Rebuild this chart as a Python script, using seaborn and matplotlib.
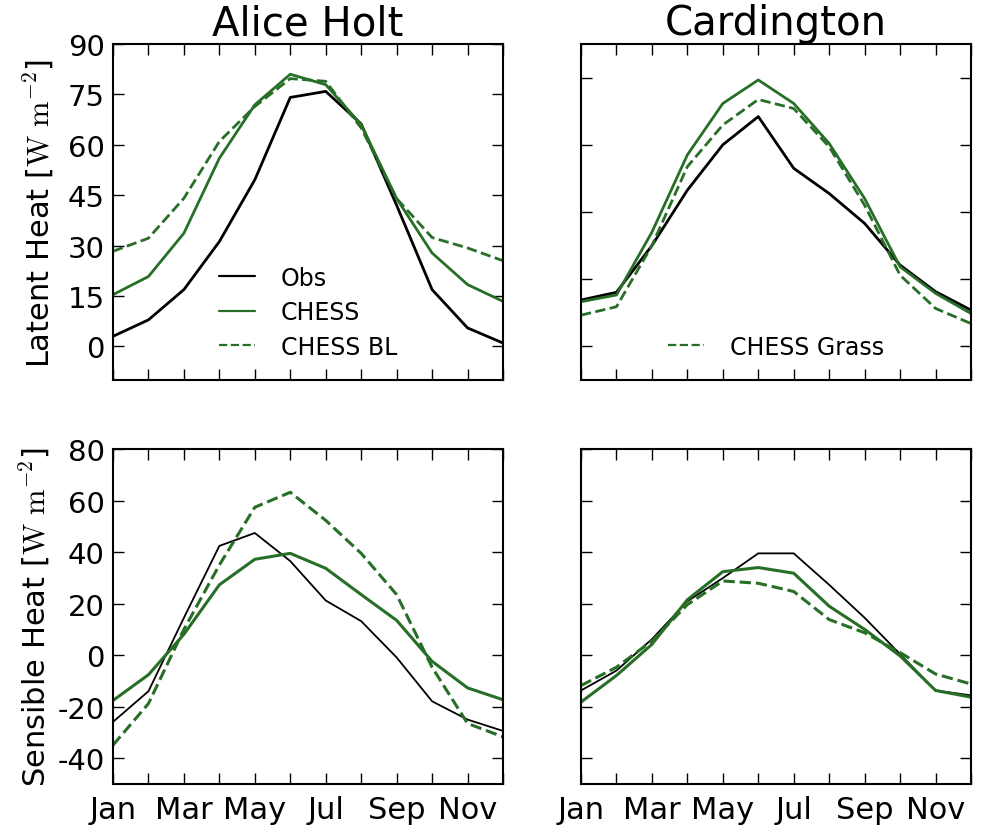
import numpy as np
import pandas as pd
import matplotlib
matplotlib.use("Agg")
import matplotlib.pyplot as plt
import seaborn as sns

# Monthly climatology, Jan..Dec
months = ["Jan", "Feb", "Mar", "Apr", "May", "Jun",
          "Jul", "Aug", "Sep", "Oct", "Nov", "Dec"]
month_labels = ["Jan", "", "Mar", "", "May", "", "Jul", "", "Sep", "", "Nov", ""]

# Latent heat flux [W m-2]
alice_le_obs = [3.0, 7.9, 16.9, 31.2, 49.6, 74.1, 75.9, 66.2, 42.0, 16.9, 5.5, 1.0]
alice_le_chess = [15.4, 20.8, 33.7, 56.0, 71.9, 81.0, 77.9, 66.0, 44.0, 27.8, 18.4, 13.4]
alice_le_chess_bl = [28.3, 32.2, 44.1, 61.0, 71.4, 79.7, 78.9, 65.0, 44.0, 32.4, 29.3, 25.5]

card_le_obs = [13.8, 16.1, 30.0, 46.5, 60.0, 68.4, 53.0, 45.5, 36.6, 24.2, 16.3, 10.8]
card_le_chess = [13.3, 15.3, 34.0, 57.0, 72.3, 79.3, 72.3, 60.4, 44.0, 23.7, 15.8, 9.8]
card_le_chess_grass = [9.3, 11.8, 30.0, 53.5, 65.9, 73.5, 70.8, 59.4, 42.0, 21.2, 11.3, 6.8]

# Sensible heat flux [W m-2]
alice_h_obs = [-25.9, -14.0, 14.5, 42.4, 47.4, 36.5, 21.2, 13.2, -0.9, -17.9, -25.0, -29.4]
alice_h_chess = [-17.6, -7.6, 8.1, 27.3, 37.2, 39.5, 33.7, 23.5, 13.5, -2.4, -12.7, -17.3]
alice_h_chess_bl = [-34.9, -18.8, 10.0, 35.0, 57.4, 63.2, 52.3, 39.5, 23.5, -4.7, -26.5, -31.7]

card_h_obs = [-13.7, -6.0, 6.2, 20.9, 29.9, 39.5, 39.5, 27.3, 14.5, 0.4, -13.7, -15.6]
card_h_chess = [-18.2, -7.9, 4.2, 21.5, 32.4, 34.0, 31.8, 19.0, 10.0, -0.3, -13.7, -16.3]
card_h_chess_grass = [-11.8, -4.7, 5.5, 19.6, 28.8, 27.9, 24.7, 13.8, 8.7, 1.0, -7.3, -11.2]

GREEN = "#276e27"

sns.set_style("ticks", {
    "xtick.direction": "in", "ytick.direction": "in",
    "xtick.top": True, "ytick.right": True,
    "axes.edgecolor": "black",
    "text.color": "black", "axes.labelcolor": "black",
    "xtick.color": "black", "ytick.color": "black",
})
plt.rcParams.update({
    "font.family": ["DejaVu Sans"],
    "mathtext.fontset": "cm",
    "axes.unicode_minus": False,
    "xtick.major.size": 8, "ytick.major.size": 8,
    "xtick.major.width": 1.0, "ytick.major.width": 1.0,
    "axes.linewidth": 1.5,
    "xtick.major.pad": 8, "ytick.major.pad": 6,
})

fig = plt.figure(figsize=(9.87, 8.29), dpi=100)
W, H = 987.0, 829.0


def add_axes(left, top, right, bottom):
    return fig.add_axes([left / W, 1 - bottom / H, (right - left) / W, (bottom - top) / H])


ax_le_a = add_axes(113, 45, 503, 381)
ax_le_c = add_axes(581, 45, 971, 381)
ax_h_a = add_axes(113, 450, 503, 785)
ax_h_c = add_axes(581, 450, 971, 785)

x = np.arange(len(months))


def draw(ax, series):
    for vals, color, ls, lw, label in series:
        df = pd.DataFrame({"month": x, "flux": vals})
        sns.lineplot(data=df, x="month", y="flux", ax=ax, color=color,
                     linestyle=ls, linewidth=lw, label=label)
    ax.set_xlim(0, 11)
    ax.set_xticks(x)
    ax.set_xlabel("")
    ax.set_ylabel("")


draw(ax_le_a, [
    (alice_le_obs, "black", "-", 2.0, "Obs"),
    (alice_le_chess, GREEN, "-", 2.0, "CHESS"),
    (alice_le_chess_bl, GREEN, "--", 2.0, "CHESS BL"),
])
draw(ax_le_c, [
    (card_le_obs, "black", "-", 2.0, None),
    (card_le_chess, GREEN, "-", 2.0, None),
    (card_le_chess_grass, GREEN, "--", 2.0, "CHESS Grass"),
])
draw(ax_h_a, [
    (alice_h_obs, "black", "-", 1.3, None),
    (alice_h_chess, GREEN, "-", 2.2, None),
    (alice_h_chess_bl, GREEN, "--", 2.2, None),
])
draw(ax_h_c, [
    (card_h_obs, "black", "-", 1.3, None),
    (card_h_chess, GREEN, "-", 2.2, None),
    (card_h_chess_grass, GREEN, "--", 2.2, None),
])

# Latent heat axes
for ax in (ax_le_a, ax_le_c):
    ax.set_ylim(-10, 90)
    ax.set_xticklabels([])
ax_le_a.set_yticks(np.arange(0, 91, 15))
ax_le_c.set_yticks(np.arange(0, 81, 20))
ax_le_c.set_yticklabels([])

# Sensible heat axes
for ax in (ax_h_a, ax_h_c):
    ax.set_ylim(-50, 80)
    ax.set_yticks(np.arange(-40, 81, 20))
    ax.set_xticklabels(month_labels, fontsize=22)
ax_h_c.set_yticklabels([])

for ax in (ax_le_a, ax_h_a):
    ax.tick_params(axis="y", labelsize=21)

ax_le_a.set_title("Alice Holt", fontsize=29, pad=7)
ax_le_c.set_title("Cardington", fontsize=29, pad=7)

ax_le_a.set_ylabel(r"Latent Heat [$\mathrm{W\ m^{-2}}$]", fontsize=22, labelpad=8)
ax_h_a.set_ylabel(r"Sensible Heat [$\mathrm{W\ m^{-2}}$]", fontsize=22, labelpad=4)

for ax in (ax_le_a, ax_le_c):
    leg = ax.legend(loc="lower center", frameon=False, fontsize=17,
                    handlelength=1.55, handletextpad=1.1, labelspacing=0.45,
                    borderaxespad=0.5)
    for line in leg.get_lines():
        line.set_linewidth(1.6)
for ax in (ax_h_a, ax_h_c):
    leg = ax.get_legend()
    if leg is not None:
        leg.remove()

for ax in (ax_le_a, ax_le_c, ax_h_a, ax_h_c):
    for sp in ax.spines.values():
        sp.set_visible(True)
        sp.set_linewidth(1.5)

fig.savefig("out.png", dpi=100, facecolor="white")
